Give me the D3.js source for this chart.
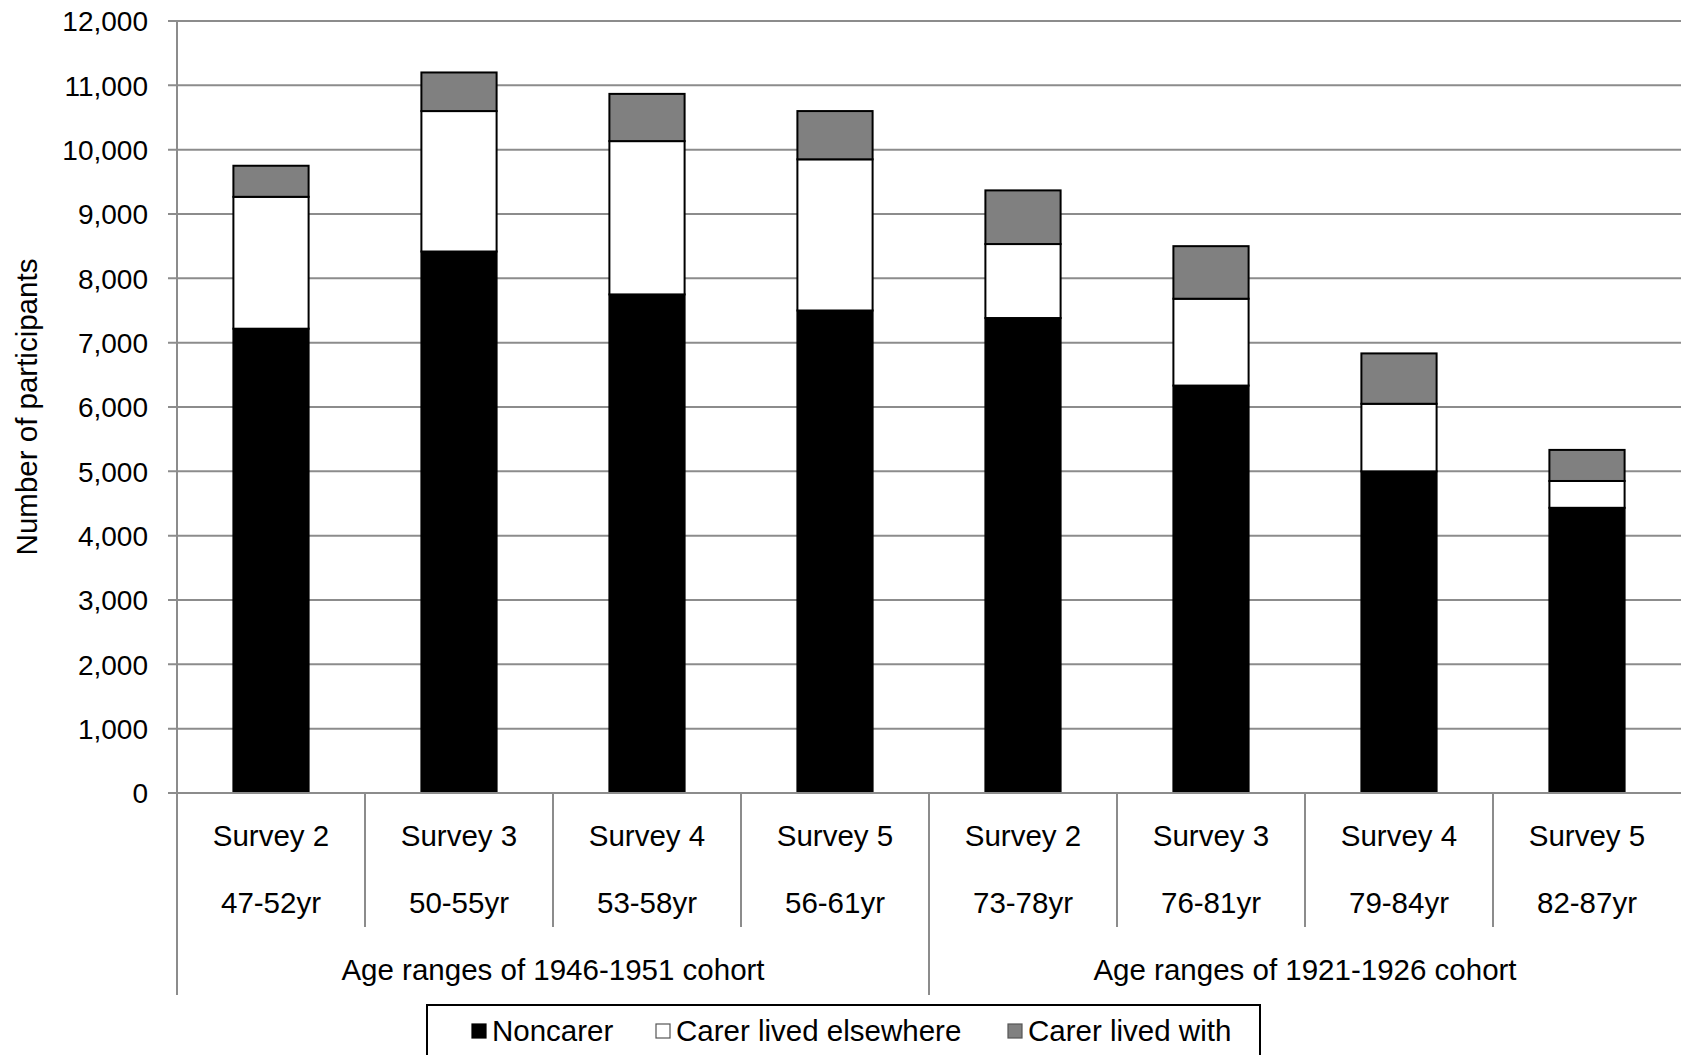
<!DOCTYPE html>
<html>
<head>
<meta charset="utf-8">
<script src="https://cdn.jsdelivr.net/npm/d3@7"></script>
<style>
  body { margin: 0; background: #fff; }
  svg text { font-family: "Liberation Sans", Arial, sans-serif; fill: #000; }
</style>
</head>
<body>
<div id="graph"></div>
<script>
const surveys = ["Survey 2", "Survey 3", "Survey 4", "Survey 5", "Survey 2", "Survey 3", "Survey 4", "Survey 5"];
const ageRanges = ["47-52yr", "50-55yr", "53-58yr", "56-61yr", "73-78yr", "76-81yr", "79-84yr", "82-87yr"];
const cohorts = ["Age ranges of 1946-1951 cohort", "Age ranges of 1921-1926 cohort"];
const cohortSize = 4;

const seriesNames = ["Noncarer", "Carer lived elsewhere", "Carer lived with"];
const noncarer = [7217, 8417, 7750, 7500, 7383, 6333, 5000, 4433];
const carerElsewhere = [2050, 2183, 2383, 2350, 1150, 1350, 1050, 417];
const carerWith = [483, 600, 734, 750, 834, 817, 783, 483];
const yTicks = [0, 1000, 2000, 3000, 4000, 5000, 6000, 7000, 8000, 9000, 10000, 11000, 12000];

const width = 1681, height = 1055;
const plotLeft = 177, plotRight = 1681, plotTop = 21, plotBottom = 793;
const fills = ["#000000", "#ffffff", "#808080"];
const gridColor = "#8c8c8c";
const labelSize = 29.5;

const svg = d3.select("#graph").append("svg")
    .attr("width", width)
    .attr("height", height);

const idx = d3.range(surveys.length);
const rows = idx.map(i => ({
    i: i,
    "Noncarer": noncarer[i],
    "Carer lived elsewhere": carerElsewhere[i],
    "Carer lived with": carerWith[i]
}));

const xScale = d3.scaleBand()
    .domain(idx)
    .range([plotLeft, plotRight])
    .paddingInner(0.6)
    .paddingOuter(0.3);
const step = xScale.step();
const yScale = d3.scaleLinear()
    .domain([0, 12000])
    .range([plotBottom, plotTop]);

// gridlines
svg.append("g")
    .selectAll("line")
    .data(yTicks)
    .join("line")
    .attr("x1", plotLeft - 9)
    .attr("x2", plotRight)
    .attr("y1", d => yScale(d))
    .attr("y2", d => yScale(d))
    .style("stroke", gridColor)
    .style("stroke-width", 2);

// y axis
const yAxis = d3.axisLeft(yScale)
    .tickValues(yTicks)
    .tickFormat(d3.format(","))
    .tickSize(0)
    .tickPadding(29);
const yg = svg.append("g")
    .attr("transform", "translate(" + plotLeft + ",0)")
    .call(yAxis);
yg.select(".domain").remove();
yg.selectAll("text")
    .attr("font-size", 28)
    .style("font-family", "'Liberation Sans', Arial, sans-serif")
    .attr("dy", "0.35em");

svg.append("text")
    .attr("transform", "translate(37," + ((plotTop + plotBottom) / 2) + ") rotate(-90)")
    .attr("text-anchor", "middle")
    .attr("font-size", labelSize)
    .text("Number of participants");

// bars
const stacked = d3.stack().keys(seriesNames)(rows);
svg.append("g")
    .selectAll("g")
    .data(stacked)
    .join("g")
    .attr("fill", (d, k) => fills[k])
    .selectAll("rect")
    .data(d => d)
    .join("rect")
    .attr("x", d => xScale(d.data.i))
    .attr("width", xScale.bandwidth())
    .attr("y", d => yScale(d[1]))
    .attr("height", d => yScale(d[0]) - yScale(d[1]))
    .style("stroke", "#000")
    .style("stroke-width", 2);

// axis lines
svg.append("line")
    .attr("x1", plotLeft).attr("x2", plotLeft)
    .attr("y1", plotTop).attr("y2", 995)
    .style("stroke", gridColor).style("stroke-width", 2);
svg.append("line")
    .attr("x1", plotLeft).attr("x2", plotRight)
    .attr("y1", plotBottom).attr("y2", plotBottom)
    .style("stroke", gridColor).style("stroke-width", 2);

// category dividers and labels
const catLabels = svg.append("g");
idx.forEach(i => {
    const x0 = plotLeft + i * step;
    if (i > 0) {
        catLabels.append("line")
            .attr("x1", x0).attr("x2", x0)
            .attr("y1", plotBottom)
            .attr("y2", i % cohortSize === 0 ? 995 : 927)
            .style("stroke", gridColor).style("stroke-width", 2);
    }
    catLabels.append("text")
        .attr("x", x0 + step / 2)
        .attr("y", 846)
        .attr("text-anchor", "middle")
        .attr("font-size", labelSize)
        .text(surveys[i]);
    catLabels.append("text")
        .attr("x", x0 + step / 2)
        .attr("y", 913)
        .attr("text-anchor", "middle")
        .attr("font-size", labelSize)
        .text(ageRanges[i]);
});

cohorts.forEach((c, j) => {
    const x0 = plotLeft + j * cohortSize * step;
    catLabels.append("text")
        .attr("x", x0 + cohortSize * step / 2)
        .attr("y", 980)
        .attr("text-anchor", "middle")
        .attr("font-size", labelSize)
        .text(c);
});

// legend
const legend = svg.append("g");
legend.append("rect")
    .attr("x", 427).attr("y", 1005)
    .attr("width", 833).attr("height", 70)
    .attr("fill", "#fff")
    .style("stroke", "#000").style("stroke-width", 2);
const legendX = [472, 656, 1008];
seriesNames.forEach((name, k) => {
    legend.append("rect")
        .attr("x", legendX[k]).attr("y", 1024)
        .attr("width", 14).attr("height", 14)
        .attr("fill", fills[k])
        .style("stroke", k === 0 ? "#000" : "#555")
        .style("stroke-width", 1.2);
    legend.append("text")
        .attr("x", legendX[k] + 20)
        .attr("y", 1041)
        .attr("font-size", labelSize)
        .text(name);
});
</script>
</body>
</html>
